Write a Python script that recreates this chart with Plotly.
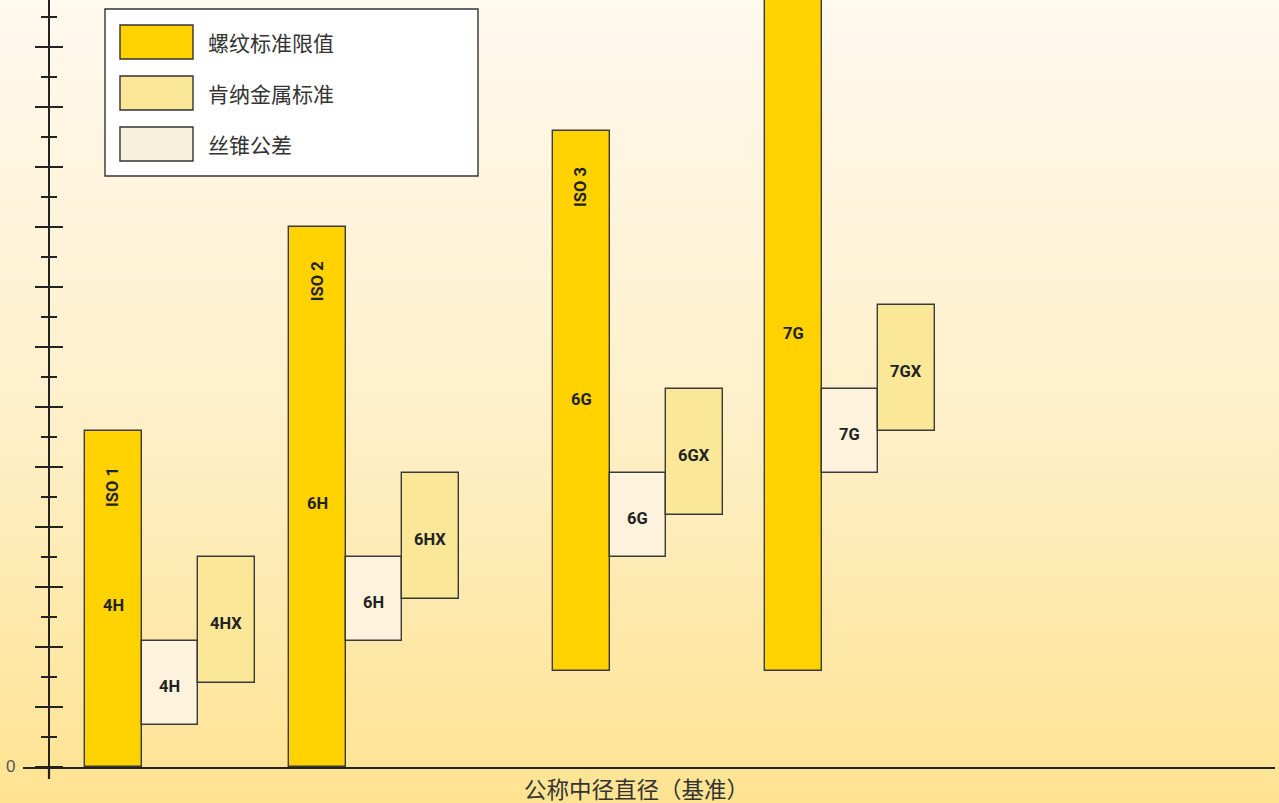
import base64
import plotly.graph_objects as go

# ---------------- data ----------------
grades = ["4H", "6H", "6G", "7G"]
iso_labels = ["ISO 1", "ISO 2", "ISO 3", ""]
std_base = [0, 0, 16, 16]          # thread standard limits (yellow)
std_top = [56, 90, 106, 140]
tap_base = [7, 21, 35, 49]         # tap tolerance (pale)
tap_top = [21, 35, 49, 63]
kmt_base = [14, 28, 42, 56]        # Kennametal standard (light yellow)
kmt_top = [35, 49, 63, 77]
kmt_labels = ["4HX", "6HX", "6GX", "7GX"]
legend_names = ["螺纹标准限值", "肯纳金属标准", "丝锥公差"]
x_title = "公称中径直径（基准）"

# ---------------- layout / style ----------------
W, H = 1279, 803
PLOT_H = 767
Y_MAX = PLOT_H / 6.0
group_left = [85, 289, 553, 765]
BW = 56.5
iso_label_y = [46.7, 81, 96.7, None]
grade_label_y = [27, 44, 61.3, 72.2]

C_STD = "#FFD200"
C_KMT = "#FAE797"
C_TAP = "#FDF2DC"
C_TAP_LEG = "#F8F0DC"
EDGE = "#3A3A3A"
INK = "#222222"
LABEL_FONT = dict(family="Liberation Sans Narrow, Roboto, Arial, sans-serif",
                  size=16.5, color=INK, weight=700)
CJK = "Noto Sans CJK SC, sans-serif"

x_std = [l + BW * 0.5 for l in group_left]
x_tap = [l + BW * 1.5 for l in group_left]
x_kmt = [l + BW * 2.5 for l in group_left]

fig = go.Figure()
def add_bars(xs, base, top, color, name):
    fig.add_trace(go.Bar(
        x=xs, base=base, y=[t - b for b, t in zip(base, top)], width=BW,
        marker=dict(color=color, line=dict(color=EDGE, width=1.4)),
        name=name, hoverinfo="skip", showlegend=False))

add_bars(x_std, std_base, std_top, C_STD, legend_names[0])
add_bars(x_tap, tap_base, tap_top, C_TAP, legend_names[2])
add_bars(x_kmt, kmt_base, kmt_top, C_KMT, legend_names[1])
fig.add_trace(go.Scatter(x=[None], y=[None], yaxis="y2", showlegend=False, hoverinfo="skip"))

ann = []
for i, g in enumerate(grades):
    if iso_labels[i]:
        ann.append(dict(x=x_std[i], y=iso_label_y[i], text=iso_labels[i],
                        textangle=-90, showarrow=False, font=LABEL_FONT))
    ann.append(dict(x=x_std[i], y=grade_label_y[i], text=g, showarrow=False, font=LABEL_FONT))
    ann.append(dict(x=x_tap[i], y=(tap_base[i] + tap_top[i]) / 2 - 0.6, text=g,
                    showarrow=False, font=LABEL_FONT))
    ann.append(dict(x=x_kmt[i], y=(kmt_base[i] + kmt_top[i]) / 2 - 0.6, text=kmt_labels[i],
                    showarrow=False, font=LABEL_FONT))

def px_to_paper_y(py):
    return 1 - py / PLOT_H

# zero label
ann.append(dict(x=17 / W, y=px_to_paper_y(766), xref="paper", yref="paper", text="0",
                showarrow=False, xanchor="right", yanchor="middle",
                font=dict(family="Liberation Sans, Arial, sans-serif", size=17, color="#555")))
# x title
ann.append(dict(x=636, y=-21 / PLOT_H, xref="x", yref="paper", text=x_title, showarrow=False,
                yanchor="middle", font=dict(family=CJK, size=22.5, color="#333")))

shapes = []
# y-axis line extension below x axis
shapes.append(dict(type="line", xref="x", yref="paper", x0=49, x1=49, y0=-12 / PLOT_H, y1=0,
                   line=dict(color=INK, width=2.2)))
# legend box
shapes.append(dict(type="rect", xref="x", yref="paper", x0=105, x1=478,
                   y0=px_to_paper_y(176), y1=px_to_paper_y(9),
                   fillcolor="white", line=dict(color="#333", width=1.4), layer="above"))
sw_colors = [C_STD, C_KMT, C_TAP_LEG]
for k, (name, col) in enumerate(zip(legend_names, sw_colors)):
    top = 25 + k * 51
    shapes.append(dict(type="rect", xref="x", yref="paper", x0=120, x1=193,
                       y0=px_to_paper_y(top + 34), y1=px_to_paper_y(top),
                       fillcolor=col, line=dict(color="#333", width=1.4), layer="above"))
    ann.append(dict(x=206, y=px_to_paper_y(top + 17), xref="x", yref="paper", text=name,
                    showarrow=False, xanchor="left", yanchor="middle",
                    font=dict(family=CJK, size=21, color="#333")))

# gradient background image
svg = ('<svg xmlns="http://www.w3.org/2000/svg" width="100" height="100" preserveAspectRatio="none">'
       '<defs><linearGradient id="g" x1="0" y1="0" x2="0" y2="1">'
       '<stop offset="0" stop-color="#FFF9EE"/><stop offset="0.5" stop-color="#FEF0CB"/>'
       '<stop offset="1" stop-color="#FEE391"/></linearGradient></defs>'
       '<rect width="100" height="100" fill="url(#g)"/></svg>')
src = "data:image/svg+xml;base64," + base64.b64encode(svg.encode()).decode()

tickvals = list(range(0, 130, 10))
minor_vals = list(range(5, 130, 10))
yaxis_common = dict(range=[0, Y_MAX], fixedrange=True, showgrid=False, zeroline=False,
                    anchor="free", position=49 / W, tickmode="array", tickvals=tickvals,
                    ticks="outside", ticklen=13, tickwidth=2, tickcolor=INK,
                    minor=dict(tickmode="array", tickvals=minor_vals, ticks="outside",
                               ticklen=7, tickwidth=1.5, tickcolor=INK, showgrid=False),
                    showticklabels=False)

fig.update_layout(
    width=W, height=H, autosize=False,
    margin=dict(l=0, r=0, t=0, b=H - PLOT_H, pad=0),
    paper_bgcolor="#FEF0CB", plot_bgcolor="rgba(0,0,0,0)",
    showlegend=False, bargap=0, barmode="overlay",
    xaxis=dict(range=[23, 1275], domain=[23 / W, 1275 / W], showgrid=False, zeroline=False,
               showline=True, linecolor=INK, linewidth=2.4, ticks="", showticklabels=False,
               fixedrange=True),
    yaxis=dict(**yaxis_common, side="left", showline=True, linecolor=INK, linewidth=2.2),
    yaxis2=dict(**yaxis_common, side="right", overlaying="y", showline=False),
    annotations=ann, shapes=shapes,
    images=[dict(source=src, xref="paper", yref="paper", x=0, y=1, sizex=1, sizey=H / PLOT_H,
                 xanchor="left", yanchor="top", sizing="stretch", layer="below")],
)
fig.write_html("out.html", config={"displayModeBar": False},
               post_script="document.body.style.margin='0';document.body.style.overflow='hidden';")
